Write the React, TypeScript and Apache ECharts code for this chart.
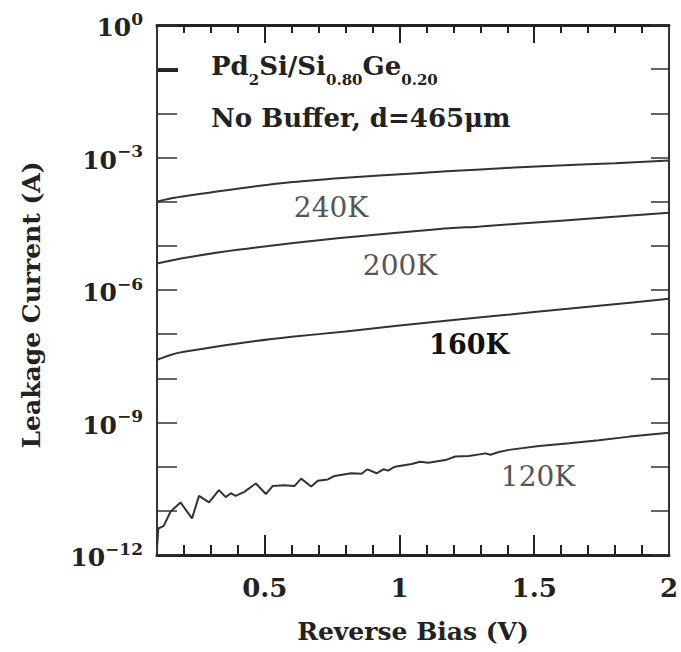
import React, { useEffect, useRef } from "react";
import * as echarts from "echarts";

// Reverse bias (V) and leakage current (A)
const V240 = [0.1, 0.15, 0.2, 0.3, 0.55, 0.8, 1.05, 1.3, 1.55, 1.8, 2.0];
const I240 = [1.0e-4, 1.18e-4, 1.32e-4, 1.62e-4, 2.57e-4, 3.47e-4, 4.37e-4, 5.37e-4, 6.46e-4, 7.41e-4, 8.51e-4];

const V200 = [0.1, 0.2, 0.4, 0.77, 1.15, 1.3, 1.6, 2.0];
const I200 = [3.98e-6, 5.3e-6, 8.13e-6, 1.48e-5, 2.4e-5, 2.75e-5, 3.72e-5, 5.62e-5];

const V160 = [0.1, 0.15, 0.2, 0.4, 0.6, 0.8, 1.0, 1.2, 1.5, 1.75, 2.0];
const I160 = [2.63e-8, 3.39e-8, 3.98e-8, 6.17e-8, 8.71e-8, 1.15e-7, 1.58e-7, 2.09e-7, 3.16e-7, 4.47e-7, 6.31e-7];

const V120 = [
  0.1, 0.105, 0.125, 0.15, 0.187, 0.23, 0.256, 0.293, 0.33, 0.355, 0.374, 0.392, 0.424, 0.467,
  0.504, 0.529, 0.573, 0.61, 0.635, 0.672, 0.697, 0.734, 0.759, 0.821, 0.859, 0.881, 0.915,
  0.94, 0.958, 0.983, 1.045, 1.076, 1.107, 1.17, 1.207, 1.257, 1.32, 1.337, 1.369, 1.406,
  1.518, 1.63, 1.74, 1.854, 2.0,
];
const I120 = [
  1.41e-12, 3.98e-12, 4.57e-12, 9.55e-12, 1.55e-11, 6.76e-12, 2.19e-11, 1.55e-11, 2.95e-11,
  2.04e-11, 2.51e-11, 2.19e-11, 2.69e-11, 4.17e-11, 2.4e-11, 3.63e-11, 3.8e-11, 3.63e-11,
  5.37e-11, 3.55e-11, 4.79e-11, 5.13e-11, 6.17e-11, 7.08e-11, 6.92e-11, 8.71e-11, 7.08e-11,
  8.71e-11, 8.13e-11, 1.0e-10, 1.15e-10, 1.29e-10, 1.23e-10, 1.41e-10, 1.7e-10, 1.74e-10,
  2.0e-10, 1.86e-10, 2.14e-10, 2.4e-10, 2.95e-10, 3.39e-10, 3.98e-10, 4.79e-10, 5.89e-10,
];

const X_LABELS = [0.5, 1, 1.5, 2];
// tick positions every 0.1 V from 0.1 to 2.0 (category overlay for tick marks)
const X_TICKS = [
  "0.1", "0.2", "0.3", "0.4", "0.5", "0.6", "0.7", "0.8", "0.9", "1.0",
  "1.1", "1.2", "1.3", "1.4", "1.5", "1.6", "1.7", "1.8", "1.9", "2.0",
];
const X_MAJOR = ["0.5", "1.0", "1.5"];
const CURVE_LABELS = ["240K", "200K", "160K", "120K"];

const FONT = "DejaVu Serif";
const INK = "#222";
const W = 681;
const H = 652;
const GRID = { left: 157, right: 11, top: 25, bottom: 97 };

const pairs = (xs: number[], ys: number[]) => xs.map((x, i) => [x, ys[i]]);

export default function App() {
  const ref = useRef<HTMLDivElement>(null);
  useEffect(() => {
    if (!ref.current) return;
    const chart = echarts.init(ref.current, null, { renderer: "svg", width: W, height: H });
    const xBase = {
      type: "value" as const,
      min: 0.1,
      max: 2,
      splitLine: { show: false },
    };
    const yBase = {
      type: "log" as const,
      logBase: 10,
      min: 1e-12,
      max: 1,
      interval: 1,
      splitLine: { show: false },
      minorTick: { show: false },
    };
    const lineSeries = (name: string, xs: number[], ys: number[], smooth: boolean | number) => ({
      name,
      type: "line",
      data: pairs(xs, ys),
      showSymbol: false,
      smooth,
      lineStyle: { color: "#333", width: 2 },
      xAxisIndex: 0,
      yAxisIndex: 0,
    });
    const isMajor = (i: number) => X_MAJOR.indexOf(X_TICKS[i]) >= 0;
    const tickAxis = (position: string, length: number, major: boolean) => ({
      type: "category" as const,
      data: X_TICKS,
      boundaryGap: false,
      position,
      axisLine: { show: false, onZero: false },
      axisTick: {
        show: true,
        inside: true,
        length,
        interval: (i: number) => (major ? isMajor(i) : i > 0 && i < X_TICKS.length - 1),
        lineStyle: { color: INK, width: 2 },
      },
      axisLabel: { show: false },
      splitLine: { show: false },
    });

    chart.setOption({
      animation: false,
      backgroundColor: "#fff",
      grid: GRID,
      xAxis: [
        {
          ...xBase,
          position: "bottom",
          axisLine: { show: true, onZero: false, lineStyle: { color: INK, width: 3 } },
          axisTick: { show: false },
          axisLabel: {
            customValues: X_LABELS,
            formatter: (v: number) => String(v),
            fontFamily: FONT,
            fontWeight: "bold",
            fontSize: 26,
            color: INK,
            margin: 20,
          },
          name: "Reverse Bias (V)",
          nameLocation: "middle",
          nameGap: 64,
          nameTextStyle: { fontFamily: FONT, fontWeight: "bold", fontSize: 25, color: INK },
        },
        {
          ...xBase,
          position: "top",
          axisLine: { show: true, onZero: false, lineStyle: { color: INK, width: 3 } },
          axisTick: { show: false },
          axisLabel: { show: false },
        },
        tickAxis("bottom", 10, false),
        tickAxis("bottom", 20, true),
        tickAxis("top", 8, false),
        tickAxis("top", 18, true),
      ],
      yAxis: [
        {
          ...yBase,
          position: "left",
          axisLine: { show: true, onZero: false, lineStyle: { color: "#333", width: 2 } },
          axisTick: { show: true, inside: true, length: 20, lineStyle: { color: "#333", width: 1.5 } },
          axisLabel: {
            margin: 14,
            formatter: (v: number) => {
              const e = Math.round(Math.log10(v));
              if (e % 3 !== 0) return "";
              return "{b|10}{s|" + (e === 0 ? "0" : "\u2212" + -e) + "}";
            },
            rich: {
              b: { fontFamily: FONT, fontWeight: "bold", fontSize: 25, color: INK, lineHeight: 30, verticalAlign: "bottom" },
              s: { fontFamily: FONT, fontWeight: "bold", fontSize: 17, color: INK, lineHeight: 30, verticalAlign: "top" },
            },
          },
        },
        {
          ...yBase,
          position: "right",
          axisLine: { show: true, onZero: false, lineStyle: { color: "#333", width: 2 } },
          axisTick: { show: true, inside: true, length: 18, lineStyle: { color: "#333", width: 1.5 } },
          axisLabel: { show: false },
        },
      ],
      series: [
        lineSeries(CURVE_LABELS[0], V240, I240, 0.25),
        lineSeries(CURVE_LABELS[1], V200, I200, 0.25),
        lineSeries(CURVE_LABELS[2], V160, I160, 0.25),
        lineSeries(CURVE_LABELS[3], V120, I120, false),
      ],
      graphic: [
        {
          type: "text",
          x: 31,
          y: 305,
          rotation: Math.PI / 2,
          style: {
            text: "Leakage Current (A)",
            fontFamily: FONT,
            fontWeight: "bold",
            fontSize: 25,
            fill: INK,
            align: "center",
            verticalAlign: "middle",
          },
        },
        {
          type: "rect",
          shape: { x: 158, y: 68, width: 20, height: 4 },
          style: { fill: INK },
        },
        {
          type: "text",
          x: 211,
          y: 70,
          style: {
            text: "{b|Pd}{s|2}{b|Si/Si}{s|0.80}{b|Ge}{s|0.20}",
            verticalAlign: "middle",
            rich: {
              b: { fontFamily: FONT, fontWeight: "bold", fontSize: 26, fill: INK, lineHeight: 34, verticalAlign: "top" },
              s: { fontFamily: FONT, fontWeight: "bold", fontSize: 15, fill: INK, lineHeight: 34, verticalAlign: "bottom" },
            },
          },
        },
        {
          type: "text",
          x: 211,
          y: 118,
          style: {
            text: "No Buffer, d=465\u03bcm",
            fontFamily: FONT,
            fontWeight: "bold",
            fontSize: 26,
            fill: INK,
            verticalAlign: "middle",
          },
        },
        {
          type: "text",
          x: 331,
          y: 207,
          style: { text: CURVE_LABELS[0], fontFamily: FONT, fontSize: 28, fill: "#555", align: "center", verticalAlign: "middle" },
        },
        {
          type: "text",
          x: 400,
          y: 265,
          style: { text: CURVE_LABELS[1], fontFamily: FONT, fontSize: 28, fill: "#555", align: "center", verticalAlign: "middle" },
        },
        {
          type: "text",
          x: 469,
          y: 344,
          style: { text: CURVE_LABELS[2], fontFamily: FONT, fontWeight: "bold", fontSize: 27, fill: "#111", align: "center", verticalAlign: "middle" },
        },
        {
          type: "text",
          x: 538,
          y: 476,
          style: { text: CURVE_LABELS[3], fontFamily: FONT, fontSize: 28, fill: "#555", align: "center", verticalAlign: "middle" },
        },
      ],
    });

    return () => chart.dispose();
  }, []);
  return (
    <div
      ref={ref}
      style={{ position: "absolute", left: 0, top: 0, width: W, height: H, background: "#fff" }}
    />
  );
}
